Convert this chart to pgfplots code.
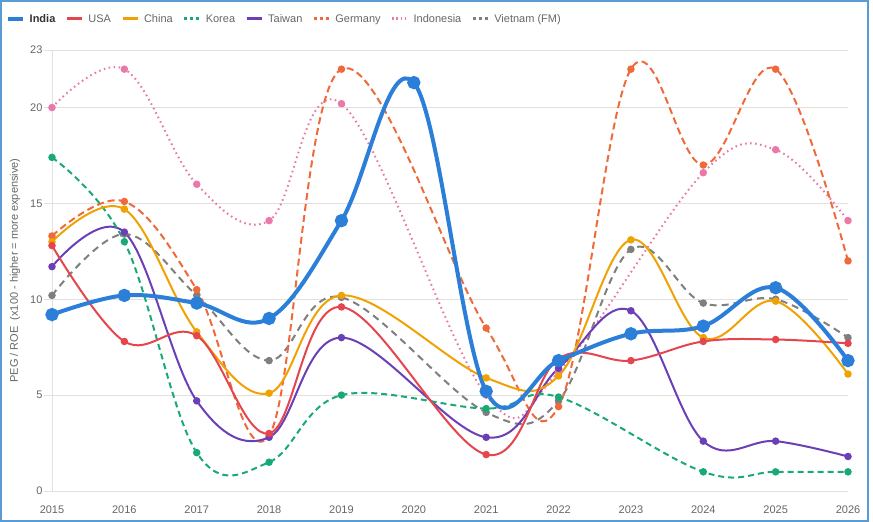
\documentclass[border=0pt]{standalone}
\usepackage{pgfplots}
\pgfplotsset{compat=1.18}
\usepackage{fontspec}
\setmainfont{Liberation Sans}
\definecolor{cIndia}{HTML}{2B7FD8}
\definecolor{cUSA}{HTML}{E5454C}
\definecolor{cChina}{HTML}{F0A202}
\definecolor{cKorea}{HTML}{19A974}
\definecolor{cTaiwan}{HTML}{6B3FB5}
\definecolor{cGermany}{HTML}{F0693A}
\definecolor{cIndonesia}{HTML}{E879A9}
\definecolor{cVietnam}{HTML}{7F7F7F}
\definecolor{tickgray}{HTML}{666666}
\definecolor{gridgray}{HTML}{E3E1DA}
\definecolor{borderblue}{HTML}{5B9BD5}
\begin{document}
\begin{tikzpicture}
\begin{axis}[
  at={(0,0)}, anchor=south west,
  scale only axis, width=796pt, height=441pt,
  xmin=2015, xmax=2026, ymin=0, ymax=23,
  xtick={2015,2016,2017,2018,2019,2020,2021,2022,2023,2024,2025,2026},
  ytick={0,5,10,15,20,23},
  axis x line*=bottom, axis y line*=left,
  axis line style={draw=gridgray, line width=0.8pt},
  ymajorgrids, grid style={draw=gridgray, line width=0.8pt},
  tick align=outside, major tick length=8pt,
  ytick style={draw=gridgray, line width=0.8pt},
  xtick style={draw=none},
  ticklabel style={font=\fontsize{11}{13}\selectfont, text=tickgray},
  /pgf/number format/assume math mode=true,
  /pgf/number format/1000 sep={},
  yticklabel style={xshift=2pt},
  xticklabel style={yshift=-3pt},
  ylabel={PEG / ROE\ \ (x100 - higher = more expensive)},
  every axis y label/.style={at={(axis description cs:-0.0465,0.5)}, rotate=90, anchor=center, font=\fontsize{11}{13}\selectfont, text=tickgray},
  legend columns=8,
  legend style={at={(axis description cs:0,1)}, anchor=west, xshift=-46pt, yshift=31pt, draw=none, fill=none, inner sep=0pt,
    nodes={inner sep=0pt, font=\fontsize{11}{13}\selectfont, text=tickgray},
    /tikz/every odd column/.append style={column sep=5pt},
    /tikz/every even column/.append style={column sep=10pt}},
  legend image code/.code={\draw[#1] (0pt,0pt) -- (15pt,0pt);},
]
\addlegendimage{cIndia, line width=3.5pt}
\addlegendentry{\textcolor{black!80}{\textbf{India}}}
\addlegendimage{cUSA, line width=3pt}
\addlegendentry{USA}
\addlegendimage{cChina, line width=3pt}
\addlegendentry{China}
\addlegendimage{cKorea, line width=3pt, dash pattern=on 3pt off 3pt}
\addlegendentry{Korea}
\addlegendimage{cTaiwan, line width=3pt}
\addlegendentry{Taiwan}
\addlegendimage{cGermany, line width=3pt, dash pattern=on 3pt off 3pt}
\addlegendentry{Germany}
\addlegendimage{cIndonesia, line width=3pt, dash pattern=on 1.5pt off 2.7pt}
\addlegendentry{Indonesia}
\addlegendimage{cVietnam, line width=3pt, dash pattern=on 3pt off 3pt}
\addlegendentry{Vietnam (FM)}

% Vietnam
\addplot[cVietnam, line width=2pt, dash pattern=on 7pt off 5pt, smooth, tension=0.62, mark=*, mark size=2.7pt, mark options={solid}]
 coordinates {(2015,10.2) (2016,13.4) (2017,10.2) (2018,6.8) (2019,10.1) (2021,4.1) (2022,4.7) (2023,12.6) (2024,9.8) (2025,10.0) (2026,8.0)};
% Indonesia
\addplot[cIndonesia, line width=2pt, dash pattern=on 1.6pt off 3.4pt, smooth, tension=0.62, mark=*, mark size=2.7pt, mark options={solid}]
 coordinates {(2015,20.0) (2016,22.0) (2017,16.0) (2018,14.1) (2019,20.2) (2021,5.0) (2022,6.2) (2024,16.6) (2025,17.8) (2026,14.1)};
% Germany
\addplot[cGermany, line width=2pt, dash pattern=on 7pt off 4pt, smooth, tension=0.62, mark=*, mark size=2.7pt, mark options={solid}]
 coordinates {(2015,13.3) (2016,15.1) (2017,10.5) (2018,2.9) (2019,22.0) (2021,8.5) (2022,4.4) (2023,22.0) (2024,17.0) (2025,22.0) (2026,12.0)};
% Taiwan
\addplot[cTaiwan, line width=2pt, smooth, tension=0.62, mark=*, mark size=2.7pt]
 coordinates {(2015,11.7) (2016,13.5) (2017,4.7) (2018,2.8) (2019,8.0) (2021,2.8) (2022,6.4) (2023,9.4) (2024,2.6) (2025,2.6) (2026,1.8)};
% Korea
\addplot[cKorea, line width=2pt, dash pattern=on 6pt off 4pt, smooth, tension=0.62, mark=*, mark size=2.7pt, mark options={solid}]
 coordinates {(2015,17.4) (2016,13.0) (2017,2.0) (2018,1.5) (2019,5.0) (2021,4.3) (2022,4.9) (2024,1.0) (2025,1.0) (2026,1.0)};
% China
\addplot[cChina, line width=2pt, smooth, tension=0.62, mark=*, mark size=2.7pt]
 coordinates {(2015,13.0) (2016,14.7) (2017,8.3) (2018,5.1) (2019,10.2) (2021,5.9) (2022,6.0) (2023,13.1) (2024,8.0) (2025,9.9) (2026,6.1)};
% USA
\addplot[cUSA, line width=2pt, smooth, tension=0.62, mark=*, mark size=2.7pt]
 coordinates {(2015,12.8) (2016,7.8) (2017,8.1) (2018,3.0) (2019,9.6) (2021,1.9) (2022,6.9) (2023,6.8) (2024,7.8) (2025,7.9) (2026,7.7)};
% India
\addplot[cIndia, line width=4pt, smooth, tension=0.62, mark=*, mark size=4.6pt]
 coordinates {(2015,9.2) (2016,10.2) (2017,9.8) (2018,9.0) (2019,14.1) (2020,21.3) (2021,5.2) (2022,6.8) (2023,8.2) (2024,8.6) (2025,10.6) (2026,6.8)};
\end{axis}
\draw[borderblue, line width=2pt] (-51pt,-30.5pt) rectangle (816pt,490pt);
\pgfresetboundingbox
\path (-52pt,-31pt) rectangle (821pt,491pt);
\end{tikzpicture}
\end{document}
